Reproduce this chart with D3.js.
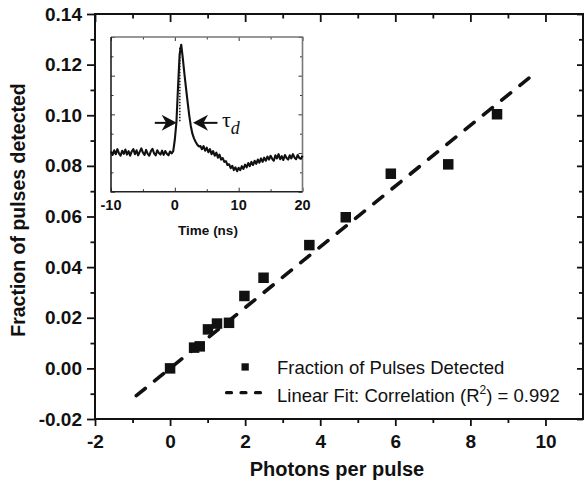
<!DOCTYPE html>
<html><head><meta charset="utf-8">
<script src="https://cdn.jsdelivr.net/npm/d3@7"></script>
<style>body{margin:0;background:#fff}svg{display:block}</style>
</head><body><svg id="c" width="584" height="483"></svg>
<script>
// ---- data ----
const photons  = [0, 0.64, 0.79, 1.01, 1.25, 1.57, 1.98, 2.49, 3.71, 4.68, 5.88, 7.41, 8.71];
const fraction = [0.000, 0.0082, 0.0087, 0.0154, 0.0177, 0.0180, 0.0286, 0.0358, 0.0487, 0.0597, 0.0769, 0.0806, 0.1004];
const fitRange = [-0.9, 9.6];
const fitSlope = 0.0120;
const fitIntercept = 0.0;
const xTicks = [-2, 0, 2, 4, 6, 8, 10];
const xMinor = [-1, 1, 3, 5, 7, 9];
const yTicks = [-0.02, 0.00, 0.02, 0.04, 0.06, 0.08, 0.10, 0.12, 0.14];
const yMinor = [-0.01, 0.01, 0.03, 0.05, 0.07, 0.09, 0.11, 0.13];
const legendLabels = ["Fraction of Pulses Detected", "Linear Fit: Correlation (R", "2", ") = 0.992"];
// inset trace (arbitrary units), sampled every 0.25 ns from -10 ns
const insetTimeTicks = [-10, 0, 10, 20];
const insetTimeMinor = [-5, 5, 15];
const insetYTicks = [0, 1, 2, 3, 4];
const insetYMinor = [0.5, 1.5, 2.5, 3.5];
const traceStart = -10, traceStep = 0.25;
const trace = [
  1.04, 0.95, 1.07, 0.97, 1.10, 0.99, 0.93, 1.06, 0.98, 1.09,
  0.96, 1.05, 0.93, 1.04, 1.10, 0.97, 1.07, 0.94, 1.03, 1.12,
  1.01, 0.95, 1.08, 0.98, 0.93, 1.05, 1.11, 0.99, 0.94, 1.07,
  1.00, 0.96, 1.06, 0.95, 1.05, 0.98, 0.94, 1.04, 0.99,
  1.05, 1.35, 1.80, 2.70, 3.55, 3.80, 3.45, 3.05, 2.68, 2.32, 1.98, 1.70, 1.50, 1.38, 1.29, 1.22, 1.17, 1.18,
  1.10, 1.18, 1.06, 1.14, 1.02, 1.10, 0.97, 1.05, 0.93, 1.01, 0.88, 0.96, 0.83, 0.87, 0.77, 0.79, 0.69, 0.71, 0.61, 0.67, 0.56, 0.63,
  0.53, 0.62, 0.56, 0.66, 0.59, 0.70, 0.63, 0.74, 0.66, 0.77, 0.69, 0.80, 0.72, 0.83, 0.75, 0.86, 0.77, 0.88, 0.80, 0.91,
  0.83, 0.93, 0.85, 0.80, 0.94, 0.86, 0.97, 0.84, 0.92, 0.82, 0.95, 0.87, 0.83, 0.94, 0.86, 0.97, 0.88, 0.84, 0.95, 0.87, 0.85, 0.93
];
const peakTime = 0.78, peakLevel = 3.72, widthLevel = 1.78;
const arrowLeft = [-3.14, 0.28], arrowRight = [6.68, 2.85];

// ---- drawing ----
const svg = d3.select("#c");
const FONT = "'Liberation Sans', Arial, sans-serif";
const INK = "#111";
const hyph = f => (d => f(d).replace("\u2212", "-"));

const x = d3.scaleLinear().domain([-2, 11]).range([95, 583]);
const y = d3.scaleLinear().domain([-0.02, 0.14]).range([419, 14]);

function styleAxis(g, fs, showText) {
  g.select(".domain").remove();
  g.selectAll(".tick line").attr("stroke", INK).attr("stroke-width", 1.8);
  g.selectAll("text").attr("fill", INK).style("font-family", FONT)
    .style("font-weight", "bold").style("font-size", fs + "px");
  if (!showText) g.selectAll("text").remove();
}

// main axes
svg.append("g").attr("transform", "translate(0,419)")
  .call(d3.axisBottom(x).tickValues(xTicks).tickSize(7).tickPadding(3).tickFormat(hyph(d3.format("d"))))
  .call(g => { styleAxis(g, 19, true); g.selectAll("text").attr("y", 29).attr("dy", 0); });
svg.append("g").attr("transform", "translate(0,419)")
  .call(d3.axisBottom(x).tickValues(xMinor).tickSize(4).tickFormat(""))
  .call(g => styleAxis(g, 19, false));
svg.append("g").attr("transform", "translate(0,14)")
  .call(d3.axisTop(x).tickValues(xTicks).tickSize(-8).tickFormat(""))
  .call(g => styleAxis(g, 19, false));
svg.append("g").attr("transform", "translate(0,14)")
  .call(d3.axisTop(x).tickValues(xMinor).tickSize(-4.5).tickFormat(""))
  .call(g => styleAxis(g, 19, false));

svg.append("g").attr("transform", "translate(95,0)")
  .call(d3.axisLeft(y).tickValues(yTicks).tickSize(8).tickPadding(5).tickFormat(hyph(d3.format(".2f"))))
  .call(g => styleAxis(g, 19, true));
svg.append("g").attr("transform", "translate(95,0)")
  .call(d3.axisLeft(y).tickValues(yMinor).tickSize(4.5).tickFormat(""))
  .call(g => styleAxis(g, 19, false));
svg.append("g").attr("transform", "translate(583,0)")
  .call(d3.axisRight(y).tickValues(yTicks).tickSize(-6).tickFormat(""))
  .call(g => styleAxis(g, 19, false));
svg.append("g").attr("transform", "translate(583,0)")
  .call(d3.axisRight(y).tickValues(yMinor).tickSize(-4).tickFormat(""))
  .call(g => styleAxis(g, 19, false));

// frame
svg.append("rect").attr("x", 95).attr("y", 14).attr("width", 488).attr("height", 405)
  .attr("fill", "none").attr("stroke", INK).attr("stroke-width", 2);

// axis titles
svg.append("text").attr("x", 337).attr("y", 476).attr("text-anchor", "middle")
  .style("font-family", FONT).style("font-weight", "bold").style("font-size", "20px")
  .attr("fill", INK).text("Photons per pulse");
svg.append("text").attr("transform", "translate(25,210) rotate(-90)").attr("text-anchor", "middle")
  .style("font-family", FONT).style("font-weight", "bold").style("font-size", "19.5px")
  .attr("fill", INK).text("Fraction of pulses detected");

// fit line
const fitLine = d3.line().x(d => x(d)).y(d => y(fitSlope * d + fitIntercept));
svg.append("path").datum(fitRange).attr("d", fitLine)
  .attr("fill", "none").attr("stroke", INK).attr("stroke-width", 3.6)
  .attr("stroke-linecap", "round").attr("stroke-dasharray", "11.5,12");

// data squares
const S = 10.5;
svg.append("g").selectAll("rect").data(photons).join("rect")
  .attr("x", (d) => x(d) - S / 2).attr("y", (d, i) => y(fraction[i]) - S / 2)
  .attr("width", S).attr("height", S).attr("fill", INK);

// legend
const lg = svg.append("g");
lg.append("rect").attr("x", 241.5).attr("y", 363.3).attr("width", 7.3).attr("height", 7.3).attr("fill", INK);
lg.append("text").attr("x", 277).attr("y", 374).style("font-family", FONT).style("font-size", "18.5px")
  .attr("fill", INK).text(legendLabels[0]);
lg.append("line").attr("x1", 226.5).attr("x2", 261).attr("y1", 392.7).attr("y2", 392.7)
  .attr("stroke", INK).attr("stroke-width", 3.2).attr("stroke-linecap", "round").attr("stroke-dasharray", "5,9.5");
const t2 = lg.append("text").attr("x", 277).attr("y", 401.5).style("font-family", FONT).style("font-size", "18.5px")
  .attr("fill", INK);
t2.append("tspan").text(legendLabels[1]);
t2.append("tspan").attr("dy", -8).style("font-size", "12px").text(legendLabels[2]);
t2.append("tspan").attr("dy", 8).text(legendLabels[3]);

// ---- inset ----
const ix = d3.scaleLinear().domain([-10, 20]).range([111, 302.5]);
const iy = d3.scaleLinear().domain([0, 4]).range([191.7, 37]);
const ins = svg.append("g");
ins.append("rect").attr("x", 111).attr("y", 37).attr("width", 191.5).attr("height", 154.7).attr("fill", "#fff");

function styleInset(g) {
  g.select(".domain").remove();
  g.selectAll(".tick line").attr("stroke", "#333").attr("stroke-width", 1);
  g.selectAll("text").remove();
}
ins.append("g").attr("transform", "translate(0,191.7)")
  .call(d3.axisBottom(ix).tickValues(insetTimeTicks).tickSize(-4).tickFormat("")).call(styleInset);
ins.append("g").attr("transform", "translate(0,191.7)")
  .call(d3.axisBottom(ix).tickValues(insetTimeMinor).tickSize(-2.5).tickFormat("")).call(styleInset);
ins.append("g").attr("transform", "translate(0,37)")
  .call(d3.axisTop(ix).tickValues(insetTimeTicks).tickSize(-4).tickFormat("")).call(styleInset);
ins.append("g").attr("transform", "translate(0,37)")
  .call(d3.axisTop(ix).tickValues(insetTimeMinor).tickSize(-2.5).tickFormat("")).call(styleInset);
ins.append("g").attr("transform", "translate(111,0)")
  .call(d3.axisLeft(iy).tickValues(insetYTicks).tickSize(-4).tickFormat("")).call(styleInset);
ins.append("g").attr("transform", "translate(111,0)")
  .call(d3.axisLeft(iy).tickValues(insetYMinor).tickSize(-2.5).tickFormat("")).call(styleInset);
ins.append("g").attr("transform", "translate(302.5,0)")
  .call(d3.axisRight(iy).tickValues(insetYTicks).tickSize(-4).tickFormat("")).call(styleInset);
ins.append("g").attr("transform", "translate(302.5,0)")
  .call(d3.axisRight(iy).tickValues(insetYMinor).tickSize(-2.5).tickFormat("")).call(styleInset);

// inset tick labels
ins.append("g").selectAll("text").data(insetTimeTicks).join("text")
  .attr("x", d => ix(d)).attr("y", 210).attr("text-anchor", "middle")
  .style("font-family", FONT).style("font-weight", "bold").style("font-size", "14.5px")
  .attr("fill", INK).text(d => String(d));
ins.append("text").attr("x", 208).attr("y", 235).attr("text-anchor", "middle")
  .style("font-family", FONT).style("font-weight", "bold").style("font-size", "13.5px")
  .attr("fill", INK).text("Time (ns)");

// inset frame: top/right grey, left/bottom dark
ins.append("path").attr("d", `M${ix(-10)},${iy(4)}H${ix(20)}V${iy(0)}`)
  .attr("fill", "none").attr("stroke", "#777").attr("stroke-width", 1.6);
ins.append("path").attr("d", `M${ix(-10)},${iy(4)}V${iy(0)}H${ix(20)}`)
  .attr("fill", "none").attr("stroke", "#222").attr("stroke-width", 1.6);

// trace
const traceLine = d3.line().x((d, i) => ix(traceStart + i * traceStep)).y(d => iy(d));
ins.append("path").datum(trace).attr("d", traceLine)
  .attr("fill", "none").attr("stroke", INK).attr("stroke-width", 2.1).attr("stroke-linejoin", "round");

// dotted line at the peak
ins.append("line").attr("x1", ix(peakTime)).attr("x2", ix(peakTime))
  .attr("y1", iy(peakLevel)).attr("y2", iy(widthLevel))
  .attr("stroke", INK).attr("stroke-width", 1.5).attr("stroke-dasharray", "1.5,1.5");

// arrows
function arrow(from, to) {
  const x0 = ix(from), x1 = ix(to), yy = iy(widthLevel);
  const dir = Math.sign(x1 - x0), L = 15, H = 8, N = 4.5;
  ins.append("line").attr("x1", x0).attr("x2", x1 - dir * 6).attr("y1", yy).attr("y2", yy)
    .attr("stroke", INK).attr("stroke-width", 2);
  ins.append("path")
    .attr("d", `M${x1},${yy}L${x1 - dir * L},${yy - H}L${x1 - dir * (L - N)},${yy}L${x1 - dir * L},${yy + H}Z`)
    .attr("fill", INK);
}
arrow(arrowLeft[0], arrowLeft[1]);
arrow(arrowRight[0], arrowRight[1]);

// tau_d label
const tau = ins.append("text").attr("x", 222).attr("y", 127)
  .style("font-family", "'Liberation Serif', 'Times New Roman', serif").attr("fill", INK);
tau.append("tspan").style("font-size", "22px").text("τ");
tau.append("tspan").attr("dy", 7).style("font-size", "18px").style("font-style", "italic").text("d");
</script>
</body></html>
